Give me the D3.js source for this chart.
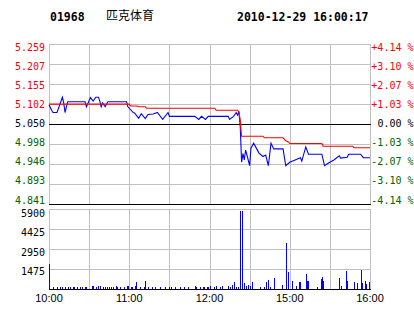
<!DOCTYPE html>
<meta charset="utf-8">
<style>
body { margin: 0; background: #fff; }
svg { display: block; }
.grid line { stroke: #c0c0c0; shape-rendering: crispEdges; }
.mono { font-family: "DejaVu Sans Mono", monospace; font-size: 10px; }
.head { font-family: "DejaVu Sans Mono", monospace; font-size: 11.5px; font-weight: bold; }
.time { font-family: "Liberation Sans", Arial, sans-serif; font-size: 11px; }
</style>
<svg width="414" height="314"></svg>
<script src="https://d3js.org/d3.v7.min.js"></script>
<script>

var stockCode = "01968", stockName = "匹克体育", stamp = "2010-12-29 16:00:17";
var prevClose = 5.050;
var priceTicks = [5.259, 5.207, 5.155, 5.102, 5.050, 4.998, 4.946, 4.893, 4.841];
var pctLabels = ["+4.14 %", "+3.10 %", "+2.07 %", "+1.03 %", "0.00 %", "-1.03 %", "-2.07 %", "-3.10 %", "-4.14 %"];
var volTicks = [5900, 4425, 2950, 1475];
var timeLabels = ["10:00", "11:00", "12:00", "15:00", "16:00"];
var timeLabelMins = [0, 60, 120, 180, 240];
var gridMins = [0, 30, 60, 90, 120, 150, 180, 210, 240];

// minutes from the open (12:30-14:30 break removed)
var priceMins = [0,2,3,6,10,11,12,13,14,27,28,31,33,35,37,38,39,40,42,44,58,59,63,64,67,69,72,74,78,81,85,89,90,109,112,114,117,119,134,135,138,140,141,142,143,
  144,145,146,147,148,150,151,153,155,157,160,162,164,166,168,175,177,180,184,188,189,192,194,204,206,209,213,217,218,223,224,233,235,240];
var prices = [5.100,5.086,5.080,5.080,5.120,5.105,5.080,5.095,5.108,5.108,5.095,5.119,5.110,5.120,5.120,5.110,5.095,5.105,5.095,5.108,5.108,5.095,5.080,5.079,5.065,5.077,5.064,5.075,5.076,5.080,5.062,5.080,5.070,5.070,5.062,5.070,5.062,5.070,5.070,5.062,5.070,5.080,5.073,5.083,5.042,
  4.950,4.973,4.956,4.982,4.969,4.941,4.987,5.000,4.987,4.974,4.965,4.969,4.941,5.000,4.985,4.985,4.941,4.950,4.956,4.962,4.953,4.990,4.971,4.971,4.941,4.948,4.956,4.967,4.961,4.963,4.971,4.971,4.962,4.962];

var avgMins = [0,60,61,66,67,72,73,124,125,141,142,143,144,160,161,175,177,179,180,204,205,227,228,240];
var avgPrices = [5.102,5.102,5.097,5.097,5.095,5.095,5.091,5.091,5.086,5.086,5.081,5.060,5.018,5.018,5.014,5.014,5.006,5.003,4.999,4.999,4.992,4.992,4.988,4.988];

var volMins = [0,3,6,8,10,12,14,16,18,19,21,23,25,27,28,32,33,35,37,38,40,42,43,45,46,48,50,51,53,56,58,59,61,62,64,65,68,71,72,74,77,79,83,87,90,91,94,98,101,104,
  109,110,113,115,116,118,119,120,123,125,128,129,134,135,137,138,140,141,143,144,146,147,149,150,152,158,161,162,164,165,168,174,177,179,182,185,187,188,
  192,193,194,200,203,204,205,217,218,222,223,228,230,233,234,236,237,239];
var volumes = [1850,170,170,170,170,170,170,170,170,170,170,170,170,170,170,200,200,170,200,200,170,170,170,170,170,170,200,170,170,170,200,200,170,170,250,490,170,170,615,170,170,170,170,170,170,170,170,170,170,170,
  250,170,170,170,170,170,170,250,170,250,170,250,250,170,300,490,170,170,5750,5750,440,250,300,250,540,170,170,490,690,170,790,300,3400,1280,615,250,540,540,
  1100,615,615,170,740,860,615,790,250,1350,615,540,440,1430,440,615,370,540];

var svg = d3.select("svg");

var x = d3.scaleLinear().domain([0, 240]).range([49, 370]),
    yP = d3.scaleLinear().domain([4.841, 5.259]).range([204, 44]),
    yV = d3.scaleLinear().domain([0, 5900]).range([289, 209]),
    lblP = d3.scaleLinear().domain([0, 8]).range([47.5, 200]),
    lblV = d3.scaleLinear().domain([0, 3]).range([213.7, 271.3]);

function px(v) { return Math.round(v) + 0.5; }

// header
svg.append("text").attr("class", "head").attr("x", 50).attr("y", 20.5).text(stockCode);
svg.append("text").attr("x", 106).attr("y", 20)
  .style("font-family", "'Noto Sans CJK SC', sans-serif").style("font-size", "12px").text(stockName);
svg.append("text").attr("class", "head").attr("x", 237).attr("y", 20.5).text(stamp);

// grid
var grid = svg.append("g").attr("class", "grid");
grid.selectAll(".hp").data(priceTicks).enter().append("line")
  .attr("x1", x(0)).attr("x2", x(240))
  .attr("y1", function(d) { return px(yP(d)); }).attr("y2", function(d) { return px(yP(d)); });
grid.selectAll(".hv").data(volTicks).enter().append("line")
  .attr("x1", x(0)).attr("x2", x(240))
  .attr("y1", function(d) { return px(yV(d)); }).attr("y2", function(d) { return px(yV(d)); });
grid.selectAll(".vp").data(gridMins).enter().append("line")
  .attr("x1", function(d) { return px(x(d)); }).attr("x2", function(d) { return px(x(d)); })
  .attr("y1", yP(5.259)).attr("y2", yP(4.841));
grid.selectAll(".vv").data(gridMins).enter().append("line")
  .attr("x1", function(d) { return px(x(d)); }).attr("x2", function(d) { return px(x(d)); })
  .attr("y1", yV(5900)).attr("y2", yV(0));

// black reference lines
[yP(prevClose), yP(4.841), yV(0)].forEach(function(yy) {
  svg.append("line").attr("x1", x(0)).attr("x2", x(240) + 1)
    .attr("y1", px(yy)).attr("y2", px(yy))
    .attr("stroke", "#000").style("shape-rendering", "crispEdges");
});

// volume bars
svg.append("g").selectAll("rect").data(volMins).enter().append("rect")
  .attr("x", function(d) { return Math.round(x(d)); })
  .attr("width", 1)
  .attr("y", function(d, i) { return Math.round(yV(volumes[i])); })
  .attr("height", function(d, i) { return Math.round(yV(0)) - Math.round(yV(volumes[i])); })
  .attr("fill", "#0000ff")
  .style("shape-rendering", "crispEdges");

// price and average lines
var line = d3.line()
  .x(function(d) { return x(d[0]); })
  .y(function(d) { return yP(d[1]); });

svg.append("path")
  .datum(priceMins.map(function(m, i) { return [m, prices[i]]; }))
  .attr("d", line).attr("fill", "none").attr("stroke", "#0000ff").attr("stroke-width", 1.1);

svg.append("path")
  .datum(avgMins.map(function(m, i) { return [m, avgPrices[i]]; }))
  .attr("d", line).attr("fill", "none").attr("stroke", "#ff0000").attr("stroke-width", 1.1);

// labels
function tickColor(i) { return i < 4 ? "#ff0000" : (i === 4 ? "#000" : "#006400"); }

svg.append("g").selectAll("text").data(priceTicks).enter().append("text")
  .attr("class", "mono").attr("x", 45).attr("y", function(d, i) { return lblP(i); })
  .attr("dy", "0.35em").attr("text-anchor", "end")
  .attr("fill", function(d, i) { return tickColor(i); })
  .text(function(d) { return d.toFixed(3); });

svg.append("g").selectAll("text").data(pctLabels).enter().append("text")
  .attr("class", "mono").attr("x", 413.5).attr("y", function(d, i) { return lblP(i); })
  .attr("dy", "0.35em").attr("text-anchor", "end")
  .attr("fill", function(d, i) { return tickColor(i); })
  .text(function(d) { return d; });

svg.append("g").selectAll("text").data(volTicks).enter().append("text")
  .attr("class", "mono").attr("x", 45).attr("y", function(d, i) { return lblV(i); })
  .attr("dy", "0.35em").attr("text-anchor", "end").attr("fill", "#000")
  .text(function(d) { return d; });

svg.append("g").selectAll("text").data(timeLabels).enter().append("text")
  .attr("class", "time").attr("x", function(d, i) { return x(timeLabelMins[i]); }).attr("y", 302)
  .attr("text-anchor", "middle").attr("fill", "#000")
  .text(function(d) { return d; });

</script>
